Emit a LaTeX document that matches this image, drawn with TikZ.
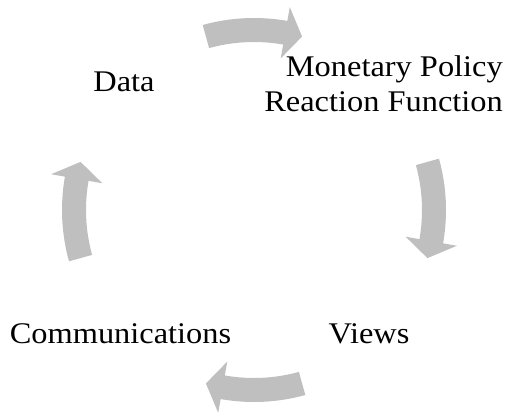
\documentclass[tikz,border=0pt]{standalone}
\usepackage{fontspec}
\setmainfont{Liberation Serif}
\begin{document}
\begin{tikzpicture}[x=1pt,y=1pt,
  arrowfill/.style={fill=arrowgray},
  label/.style={font=\fontsize{30}{35}\selectfont, inner sep=0pt, xscale=1.08, transform shape}]
\definecolor{arrowgray}{RGB}{191,191,191}
\useasboundingbox (0,0) rectangle (509,412);
\newcommand\cyclearrow[1]{%
  \fill[arrowfill] ({#1+15.5}:192) arc[start angle={#1+15.5}, end angle={#1-10}, radius=192]
    -- ({#1-10}:206) -- ({#1-15.5}:180) -- ({#1-10}:154) -- ({#1-10}:168)
    arc[start angle={#1-10}, end angle={#1+15.5}, radius=168] -- cycle;}
\begin{scope}[shift={(254,202)}]
  \cyclearrow{90}
  \cyclearrow{0}
  \cyclearrow{-90}
  \cyclearrow{180}
\end{scope}
\node[label, anchor=base] (data) at (124,320) {Data};
\node[label, align=right, anchor=east] (mprf) at (503,328) {Monetary Policy\\Reaction Function};
\node[label, anchor=base] (views) at (369,68) {Views};
\node[label, anchor=base] (comm) at (120.5,68) {Communications};
\end{tikzpicture}
\end{document}
